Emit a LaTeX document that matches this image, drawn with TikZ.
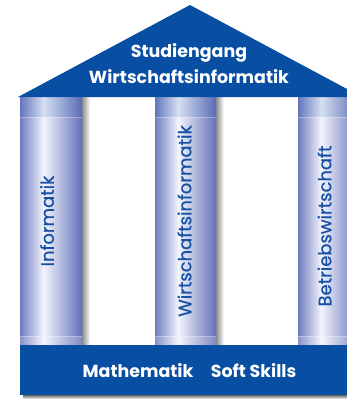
\documentclass[tikz,border=0pt]{standalone}
\usepackage{fontspec}
\setmainfont{Poppins}
\usetikzlibrary{calc}
\definecolor{roofblue}{RGB}{8,78,162}
\definecolor{colL}{RGB}{112,124,192}
\definecolor{colW}{RGB}{242,244,252}
\definecolor{colR}{RGB}{100,112,186}
\definecolor{coltext}{RGB}{24,80,165}
\tikzset{
  colshadow/.style={left color=black!45, right color=white},
  leftpart/.style={left color=colL, right color=colW},
  rightpart/.style={left color=colW, right color=colR},
  coltxt/.style={rotate=90, text=coltext, font=\fontsize{18}{20}\selectfont\addfontfeatures{FakeBold=0.6}, inner sep=0pt},
  bigtxt/.style={text=white, font=\fontsize{17.5}{26}\selectfont\bfseries, inner sep=0pt, anchor=base}
}
\newcommand{\mycolumn}[3]{%
  \shade[colshadow] (#2,97) rectangle ($(#2,345)+(8,0)$);
  \shade[leftpart] (#1,97) rectangle ($(#1,345)!0.38!(#2,345)$);
  \shade[rightpart] ($(#1,97)!0.38!(#2,97)$) rectangle (#2,345);
  \fill[roofblue, opacity=0.12] (#1,97) rectangle (#2,117);
  \draw[white, opacity=0.3, line width=0.5bp] (#1,117) -- (#2,117);
  \fill[white, opacity=0.18] (#1,336) rectangle (#2,345);
  \draw[white, opacity=0.3, line width=0.5bp] (#1,336) -- (#2,336);
  \coordinate (#3) at ($(#1,221)!0.5!(#2,221)$);
}
\begin{document}
\begin{tikzpicture}[x=1bp,y=-1bp]
\useasboundingbox (0,0) rectangle (347,399);
\clip (0,0) rectangle (347,399);
\fill[white] (0,0) rectangle (347,399);
\mycolumn{20}{82}{c1}
\mycolumn{155}{216}{c2}
\mycolumn{298}{359}{c3}
\shade[top color=black!60, bottom color=white] (23,395) rectangle (352,399);
\fill[roofblue] (20,345) rectangle (352,395);
\fill[roofblue] (18,97) -- (190,5) -- (362,97) -- cycle;
\node[bigtxt] (roof1) at (189,57) {Studiengang};
\node[bigtxt] (roof2) at (189,83) {Wirtschaftsinformatik};
\node[bigtxt] (basetxt) at (189.5,377) {Mathematik\hspace{1em}Soft Skills};
\node[coltxt] (t1) at ($(c1)+(-4,0)$) {Informatik};
\node[coltxt] (t2) at ($(c2)+(-1,0)$) {Wirtschaftsinformatik};
\node[coltxt] (t3) at ($(c3)+(-4,5)$) {Betriebswirtschaft};
\end{tikzpicture}
\end{document}
